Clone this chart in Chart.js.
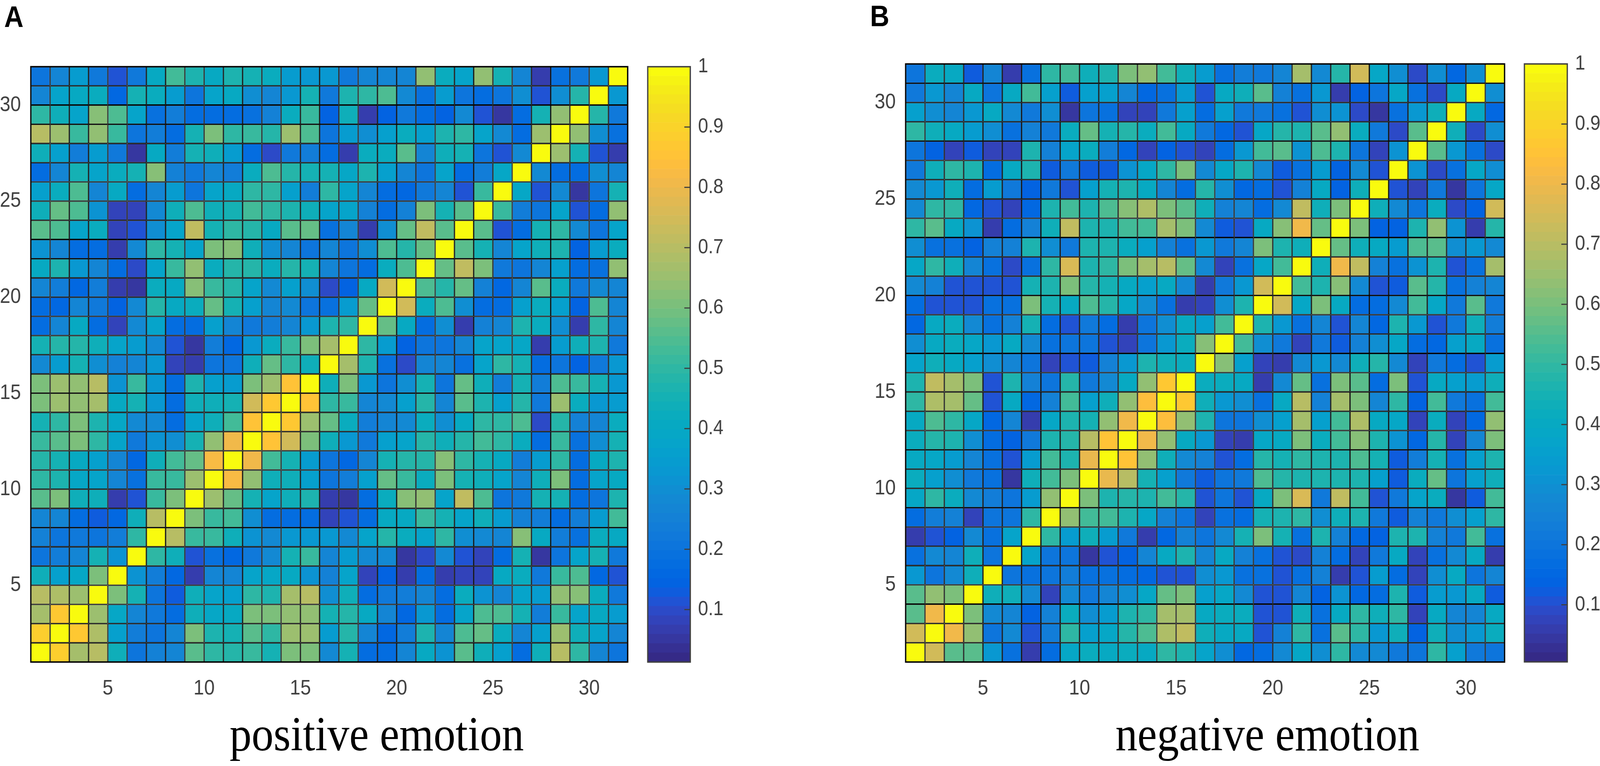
<!DOCTYPE html>
<html>
<head>
<meta charset="utf-8">
<title>Correlation matrices</title>
<script src="https://cdn.jsdelivr.net/npm/chart.js@4/dist/chart.umd.min.js"></script>
<style>
  html, body { margin: 0; background: #fff; overflow: hidden; }
  #page { position: absolute; left: 0; top: 0; width: 4550px; height: 1960px; transform-origin: 0 0; }
  canvas { position: absolute; }
  .panel { position: absolute; font: bold 76px "Liberation Sans", sans-serif; color: #000; line-height: 1; }
  .title { position: absolute; font: 125px "Liberation Serif", serif; color: #000; line-height: 1; white-space: nowrap; }
</style>
</head>
<body>
<div id="page">
<div class="panel" style="left:12px;top:5px">A</div>
<div class="panel" style="left:2474px;top:3px">B</div>
<canvas id="heatA"></canvas>
<canvas id="barA"></canvas>
<canvas id="heatB"></canvas>
<canvas id="barB"></canvas>
<div class="title" style="left:653px;top:1816px">positive emotion</div>
<div class="title" style="left:3172px;top:1816px">negative emotion</div>
</div>
<script>
// the window can come out narrower than the 4550x1960 layout, so squeeze to fit
document.getElementById('page').style.transform = `scale(${innerWidth / 4550}, ${innerHeight / 1960})`;

// channels 1..31, values are correlation x 100
// matrices are symmetric so only the lower triangle is kept (row y, x <= y)
const positive = [
  [100],
  [88,100],
  [67,87,100],
  [70,68,66,100],
  [43,36,39,60,100],
  [20,23,27,45,32,100],
  [25,21,22,21,23,50,100],
  [26,26,17,13,16,44,70,100],
  [56,60,43,43,7,11,52,60,100],
  [50,47,39,37,26,19,52,52,66,100],
  [48,45,40,36,26,16,44,53,58,82,100],
  [52,56,60,50,38,22,32,30,45,64,80,100],
  [45,50,60,47,39,28,28,17,37,44,53,85,100],
  [60,66,64,67,40,45,33,17,44,44,46,74,87,100],
  [60,66,64,70,32,52,33,17,47,36,34,60,66,86,100],
  [29,34,45,30,25,26,33,9,6,21,20,43,58,50,43,100],
  [46,48,48,43,37,34,28,12,5,23,16,33,42,52,60,67,100],
  [18,27,41,18,9,28,38,18,17,36,27,22,24,27,33,47,50,100],
  [17,16,27,22,14,28,48,41,42,58,46,36,26,28,21,19,34,58,100],
  [27,24,16,23,7,5,42,40,62,52,48,38,28,36,30,10,14,40,75,100],
  [40,47,33,26,17,10,37,52,64,42,48,48,42,48,46,27,20,17,42,55,100],
  [32,27,18,18,7,28,50,45,38,60,62,43,30,27,20,26,20,30,55,48,57,100],
  [56,54,38,42,8,11,30,38,72,46,50,48,40,56,58,19,26,7,30,58,72,56,100],
  [44,58,54,32,8,8,28,43,55,43,46,53,50,47,44,38,38,25,18,25,60,45,56,100],
  [36,42,54,27,40,17,26,34,21,38,40,50,50,36,24,50,37,27,17,16,22,27,11,52,100],
  [18,27,46,38,42,46,62,25,22,26,23,42,54,48,45,46,39,47,36,26,20,38,18,24,39,100],
  [44,36,24,35,22,5,40,24,46,44,34,18,10,22,23,18,7,42,42,56,27,43,46,20,12,28,100],
  [70,66,52,64,52,20,24,17,45,60,50,52,48,66,55,20,34,30,36,42,36,47,50,38,28,17,66,100],
  [50,44,37,62,54,38,19,24,17,17,17,19,25,42,52,14,44,7,14,22,17,15,28,12,5,17,45,63,100],
  [27,37,40,42,16,46,42,35,20,37,40,30,26,33,45,22,47,50,55,28,19,35,21,17,21,30,11,30,48,100],
  [20,27,34,22,11,22,40,53,47,40,47,45,42,34,33,33,22,27,26,27,63,42,38,63,46,26,6,19,22,33,100]
];
const negative = [
  [100],
  [74,100],
  [56,80,100],
  [56,63,60,100],
  [33,20,27,44,100],
  [19,28,26,43,20,100],
  [6,10,14,27,18,37,100],
  [17,23,24,8,20,20,50,100],
  [38,50,41,27,23,20,34,63,100],
  [41,36,29,22,19,5,44,52,60,100],
  [40,39,34,26,19,10,34,53,47,79,100],
  [42,48,47,30,17,14,22,46,48,69,85,100],
  [40,54,50,38,16,26,6,38,47,45,64,80,100],
  [50,68,66,58,10,40,15,25,52,36,44,64,84,100],
  [46,72,66,60,11,47,24,20,48,21,28,40,64,87,100],
  [37,43,40,35,30,26,20,8,10,12,25,33,47,44,42,100],
  [29,40,41,38,33,40,27,18,20,20,11,8,20,33,42,62,100],
  [15,40,42,28,18,24,45,17,10,21,17,6,20,30,40,35,53,100],
  [17,10,11,10,18,19,60,45,40,54,48,38,30,18,6,8,30,46,100],
  [28,24,10,10,11,10,45,47,60,48,45,40,35,40,28,6,22,32,74,100],
  [39,50,44,26,18,9,19,50,76,46,50,60,66,70,58,28,7,19,39,52,100],
  [30,18,18,14,25,25,47,30,21,46,46,41,36,24,18,32,21,26,60,46,44,100],
  [50,55,40,31,6,17,25,43,72,46,46,53,52,66,60,27,12,10,40,62,80,57,100],
  [27,50,50,16,10,7,16,47,52,46,54,62,68,60,55,43,25,26,17,27,72,44,60,100],
  [28,33,44,17,34,22,14,21,10,35,45,47,40,26,17,48,30,15,17,10,25,40,14,44,100],
  [21,44,50,47,17,40,46,12,22,12,12,31,38,50,60,27,38,46,28,12,18,34,14,27,10,100],
  [20,14,7,12,7,8,46,25,37,41,23,16,8,14,10,7,17,33,52,55,31,54,46,20,8,31,100],
  [50,44,40,34,30,18,25,22,42,58,45,48,42,52,40,22,15,11,39,48,47,56,63,42,22,9,56,100],
  [36,30,26,33,40,27,22,29,5,20,19,8,8,21,35,17,36,22,21,18,10,29,31,9,5,18,32,43,100],
  [22,33,26,40,20,40,52,36,12,36,36,26,15,18,34,11,40,44,56,24,19,33,6,13,20,39,19,9,40,100],
  [20,42,40,12,26,6,19,50,52,44,47,60,63,53,44,34,19,23,22,26,66,28,48,74,39,30,9,30,15,30,100]
];
const axisTicks = [5, 10, 15, 20, 25, 30];
const colorbarTicks = [0.1, 0.2, 0.3, 0.4, 0.5, 0.6, 0.7, 0.8, 0.9, 1];

// old MATLAB parula, 64 steps
const parula = [
  [.2081,.1663,.5292],[.2116,.1898,.5777],[.2123,.2138,.6270],[.2081,.2386,.6771],[.1959,.2645,.7279],[.1707,.2919,.7792],[.1253,.3242,.8303],[.0591,.3598,.8683],
  [.0117,.3875,.8820],[.0060,.4086,.8828],[.0165,.4266,.8786],[.0329,.4430,.8720],[.0498,.4586,.8641],[.0629,.4737,.8554],[.0723,.4887,.8467],[.0779,.5040,.8384],
  [.0793,.5200,.8312],[.0749,.5375,.8263],[.0641,.5570,.8240],[.0488,.5772,.8228],[.0343,.5966,.8199],[.0265,.6137,.8135],[.0239,.6287,.8038],[.0231,.6418,.7913],
  [.0228,.6535,.7768],[.0267,.6642,.7607],[.0384,.6743,.7436],[.0590,.6838,.7254],[.0843,.6928,.7062],[.1133,.7015,.6859],[.1453,.7098,.6646],[.1801,.7177,.6424],
  [.2178,.7250,.6193],[.2586,.7317,.5954],[.3022,.7376,.5712],[.3482,.7424,.5473],[.3953,.7459,.5244],[.4420,.7481,.5033],[.4871,.7491,.4840],[.5300,.7491,.4661],
  [.5709,.7485,.4494],[.6099,.7473,.4337],[.6473,.7456,.4188],[.6834,.7435,.4044],[.7184,.7411,.3905],[.7525,.7384,.3768],[.7858,.7356,.3633],[.8185,.7327,.3498],
  [.8507,.7299,.3360],[.8824,.7274,.3217],[.9139,.7258,.3063],[.9450,.7261,.2886],[.9739,.7314,.2666],[.9938,.7455,.2403],[.9990,.7653,.2164],[.9955,.7861,.1967],
  [.9880,.8066,.1794],[.9789,.8271,.1633],[.9697,.8481,.1475],[.9626,.8705,.1309],[.9589,.8949,.1132],[.9598,.9218,.0948],[.9661,.9514,.0755],[.9763,.9831,.0538]
];
const cssColor = c => `rgb(${c.map(k => Math.round(k * 255)).join(',')})`;

function colorFor(v, cmin) {
  const i = Math.floor((v - cmin) / (1 - cmin) * 64);
  return cssColor(parula[Math.max(0, Math.min(63, i))]);
}

const tickColor = '#404040';
const tickFont = { family: '"Liberation Sans", sans-serif', size: 54 };

// box round the plot area
const frame = {
  id: 'frame',
  afterDatasetsDraw(chart, args, opts) {
    const a = chart.chartArea, c = chart.ctx;
    c.save();
    c.strokeStyle = opts.color;
    c.lineWidth = 3.6;
    c.strokeRect(a.left, a.top, a.right - a.left, a.bottom - a.top);
    c.restore();
  }
};
// short colourbar ticks pointing inwards
const innerTicks = {
  id: 'innerTicks',
  afterDraw(chart) {
    if (!chart.options.plugins.innerTicks.on) return;
    const a = chart.chartArea, c = chart.ctx, y = chart.scales.y;
    c.save();
    c.strokeStyle = tickColor;
    c.lineWidth = 3;
    colorbarTicks.slice(0, -1).forEach(t => {
      const p = y.getPixelForValue(t);
      c.beginPath(); c.moveTo(a.right - 17, p); c.lineTo(a.right, p); c.stroke();
    });
    c.restore();
  }
};
Chart.register(frame, innerTicks);

function place(id, left, top, width, height) {
  const el = document.getElementById(id);
  el.width = width; el.height = height;
  el.style.left = left + 'px'; el.style.top = top + 'px';
  el.style.width = width + 'px'; el.style.height = height + 'px';
  return el;
}

function heatmap(el, rows, cmin, yWidth, pad) {
  const cells = [];
  for (let y = 0; y < rows.length; y++) {
    for (let x = 0; x < rows.length; x++) {
      const v = (x <= y ? rows[y][x] : rows[x][y]) / 100;
      cells.push({ x: x + 1.5, y: [y + 1, y + 2], v });
    }
  }
  return new Chart(el, {
    type: 'bar',
    data: {
      datasets: [{
        data: cells,
        backgroundColor: cells.map(d => colorFor(d.v, cmin)),
        borderColor: '#000',
        borderWidth: 1.8,
        borderSkipped: false,
        inflateAmount: 0,
        grouped: false,
        barPercentage: 1,
        categoryPercentage: 1
      }]
    },
    options: {
      responsive: false,
      animation: false,
      devicePixelRatio: 1,
      layout: { padding: pad },
      plugins: { legend: { display: false }, tooltip: { enabled: false }, frame: { color: '#000' }, innerTicks: { on: false } },
      scales: {
        x: {
          type: 'linear', min: 1, max: 32, offset: false,
          grid: { display: false, drawTicks: false, offset: false },
          border: { display: false },
          afterBuildTicks: s => { s.ticks = axisTicks.map(value => ({ value })); },
          afterFit: s => { s.height = 106; s.paddingLeft = 0; s.paddingRight = 0; },
          ticks: { color: tickColor, font: tickFont, padding: 36, maxRotation: 0, autoSkip: false }
        },
        y: {
          type: 'linear', min: 1, max: 32,
          grid: { display: false, drawTicks: false },
          border: { display: false },
          afterBuildTicks: s => { s.ticks = axisTicks.map(value => ({ value })); },
          afterFit: s => { s.width = yWidth; s.paddingTop = 0; s.paddingBottom = 0; },
          ticks: { color: tickColor, font: tickFont, padding: 28, autoSkip: false }
        }
      }
    }
  });
}

function colorbar(el, cmin, yWidth, pad) {
  const datasets = parula.map((c, i) => ({
    data: [[cmin + i / 64 * (1 - cmin), cmin + (i + 1) / 64 * (1 - cmin)]],
    backgroundColor: cssColor(c),
    grouped: false,
    barPercentage: 1,
    categoryPercentage: 1
  }));
  return new Chart(el, {
    type: 'bar',
    data: { labels: ['colorbar'], datasets },
    options: {
      responsive: false,
      animation: false,
      devicePixelRatio: 1,
      layout: { padding: pad },
      plugins: { legend: { display: false }, tooltip: { enabled: false }, frame: { color: tickColor }, innerTicks: { on: true } },
      scales: {
        x: { display: false },
        y: {
          position: 'right', min: cmin, max: 1,
          grid: { display: false, drawTicks: false },
          border: { display: false },
          afterBuildTicks: s => { s.ticks = colorbarTicks.map(value => ({ value })); },
          afterFit: s => { s.width = yWidth; s.paddingTop = 0; s.paddingBottom = 0; },
          ticks: { color: tickColor, font: { family: tickFont.family, size: 52 }, padding: 22, autoSkip: false, callback: v => String(v) }
        }
      }
    }
  });
}

heatmap(place('heatA', 0, 140, 1800, 1660), positive, 0.013, 87.6, { top: 30.6, right: 15, left: 0, bottom: 0 });
colorbar(place('barA', 1800, 140, 300, 1660), 0.013, 137, { top: 30.7, left: 42, right: 0, bottom: 106 });
heatmap(place('heatB', 2480, 130, 1810, 1670), negative, 0.005, 95.4, { top: 33.6, right: 11.4, left: 0, bottom: 0 });
colorbar(place('barB', 4300, 130, 250, 1670), 0.005, 93, { top: 33.6, left: 35, right: 0, bottom: 106.4 });
</script>
</body>
</html>
